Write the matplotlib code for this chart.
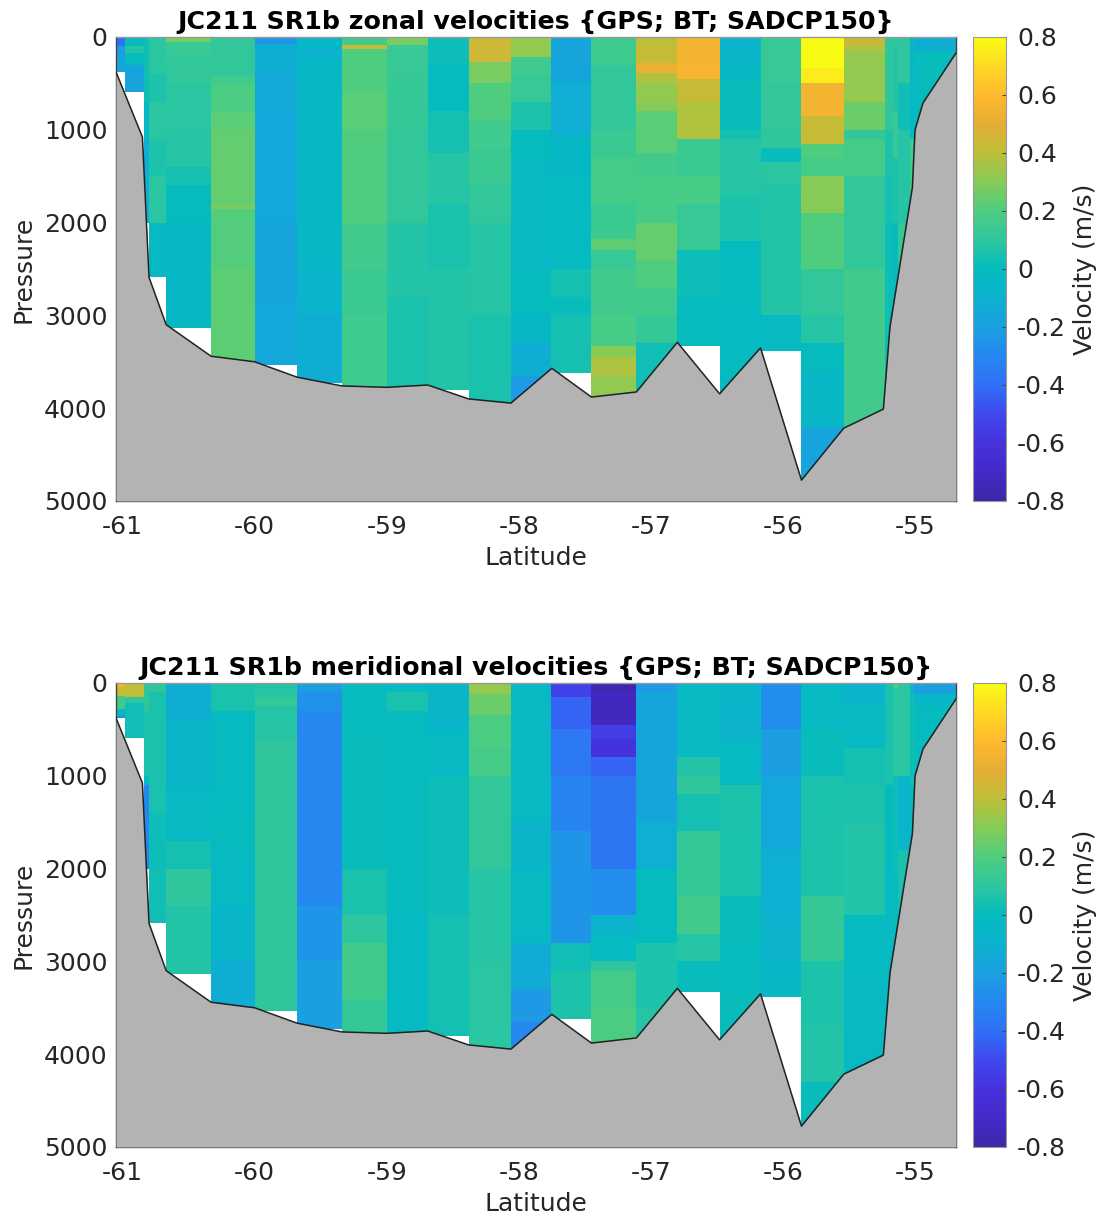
import matplotlib
matplotlib.use('Agg')
import matplotlib.pyplot as plt
from matplotlib.colors import LinearSegmentedColormap

# Colours, -0.8 to 0.8 in steps of 0.1
bar_colours = ['#3E26A8', '#4429C8', '#4632DC', '#3F48EE', '#3070F5', '#2588F0', '#1AA0E0',
               '#0CB2CE', '#04BBBE', '#2EC69E', '#4DCD80', '#85CC58', '#BCBF38', '#E4AE35',
               '#FFB92E', '#FFD825', '#F9FB14']

# Edges of the station columns (latitude)
col_edges = [-61.05, -60.98, -60.84, -60.80, -60.67, -60.33, -60.00, -59.68, -59.34,
             -59.00, -58.69, -58.38, -58.06, -57.76, -57.45, -57.11, -56.80, -56.48,
             -56.17, -55.86, -55.54, -55.23, -55.17, -55.13, -55.04, -55.00, -54.69]

# Deepest good data in each column
col_bottom = [380, 590, 2005, 2590, 3140, 3500, 3535, 3730, 3790, 3790, 3800, 3960, 3960,
              3620, 3890, 3830, 3330, 3860, 3385, 4800, 4250, 4020, 4020, 4020, 4020, 4020]

# Seabed
bathy_lat = [-61.05, -60.85, -60.80, -60.67, -60.33, -60.00, -59.68, -59.34, -59.00,
             -58.69, -58.38, -58.06, -57.75, -57.45, -57.11, -56.80, -56.48, -56.17,
             -55.86, -55.54, -55.24, -55.19, -55.02, -55.00, -54.94, -54.69]
bathy_p = [377, 1078, 2590, 3100, 3440, 3500, 3665, 3760, 3775, 3750, 3900, 3945, 3570,
           3880, 3825, 3290, 3845, 3350, 4775, 4215, 4010, 3125, 1620, 1000, 711, 172]

# (bottom of layer, velocity) going down each column
zonal = [
    [(100, -0.4), (200, -0.22), (370, -0.18)],
    [(100, 0.0), (170, 0.08), (300, 0.0), (590, -0.18)],
    [(300, 0.03), (700, 0.03), (1100, -0.05), (2000, -0.12)],
    [(400, 0.09), (700, 0.06), (1100, 0.09), (1500, 0.06), (2000, 0.09), (2590, -0.02)],
    [(50, 0.28), (230, 0.13), (500, 0.11), (1000, 0.09), (1400, 0.08), (1600, 0.04), (2000, 0.0), (3140, -0.03)],
    [(420, 0.11), (500, 0.15), (800, 0.19), (1000, 0.22), (1800, 0.24), (1850, 0.27), (2500, 0.21), (3500, 0.23)],
    [(80, -0.25), (400, -0.13), (800, -0.15), (2000, -0.16), (2800, -0.17), (3535, -0.16)],
    [(120, -0.05), (220, -0.1), (1500, -0.05), (2500, -0.04), (3000, -0.08), (3730, -0.13)],
    [(90, 0.16), (130, 0.42), (600, 0.2), (1000, 0.22), (2000, 0.2), (2500, 0.16), (3000, 0.14), (3790, 0.15)],
    [(90, 0.28), (400, 0.13), (1000, 0.12), (2000, 0.11), (2800, 0.07), (3790, 0.05)],
    [(300, 0.02), (800, 0.0), (1254, 0.04), (1800, 0.08), (2500, 0.05), (3800, 0.07)],
    [(270, 0.44), (500, 0.28), (900, 0.2), (1200, 0.15), (1600, 0.14), (2000, 0.11), (3000, 0.08), (3960, 0.05)],
    [(220, 0.32), (400, 0.15), (700, 0.13), (1000, 0.06), (1300, 0.0), (2500, -0.02), (3000, 0.0), (3300, -0.04), (3650, -0.13), (3960, -0.22)],
    [(480, -0.17), (1050, -0.12), (1500, -0.03), (2500, -0.01), (2800, 0.04), (3000, 0.01), (3620, 0.04)],
    [(300, 0.15), (700, 0.11), (1000, 0.11), (1300, 0.14), (1800, 0.17), (2100, 0.14), (2180, 0.15), (2300, 0.23), (2500, 0.13), (3000, 0.16), (3335, 0.18), (3450, 0.3), (3650, 0.37), (3890, 0.32)],
    [(100, 0.4), (280, 0.42), (390, 0.52), (500, 0.38), (700, 0.32), (800, 0.3), (1250, 0.22), (1500, 0.16), (2000, 0.18), (2400, 0.24), (2700, 0.2), (3000, 0.16), (3300, 0.12), (3830, 0.03)],
    [(300, 0.55), (450, 0.57), (700, 0.42), (1100, 0.38), (1500, 0.14), (1800, 0.18), (2300, 0.13), (2800, 0.02), (3330, 0.0)],
    [(150, -0.08), (350, -0.06), (470, -0.03), (1000, 0.01), (1100, 0.04), (1700, 0.08), (2200, 0.06), (2800, 0.0), (3860, -0.01)],
    [(500, 0.13), (1000, 0.11), (1200, 0.1), (1350, 0.01), (1600, 0.09), (2000, 0.07), (3000, 0.07), (3385, -0.02)],
    [(330, 0.8), (500, 0.75), (700, 0.55), (850, 0.55), (1150, 0.42), (1300, 0.2), (1500, 0.17), (1900, 0.3), (2500, 0.2), (3000, 0.11), (3300, 0.08), (3600, 0.0), (4200, -0.05), (4800, -0.18)],
    [(100, 0.42), (150, 0.38), (700, 0.33), (1000, 0.25), (1100, 0.11), (1500, 0.17), (2000, 0.11), (2500, 0.11), (3000, 0.16), (4250, 0.16)],
    [(1000, 0.1), (1500, 0.06), (2000, 0.04), (4020, 0.02)],
    [(100, 0.1), (800, 0.07), (1300, 0.13), (2000, 0.06), (4020, 0.0)],
    [(500, 0.1), (1000, 0.03), (2000, 0.08), (2500, 0.12), (4020, 0.1)],
    [(300, -0.05), (1100, -0.02), (4020, 0.15)],
    [(150, -0.13), (500, 0.01), (4020, 0.0)],
]

meridional = [
    [(40, 0.55), (140, 0.42), (285, 0.15), (360, -0.05), (380, -0.3)],
    [(150, 0.4), (220, 0.1), (590, 0.03)],
    [(300, 0.1), (1000, 0.06), (1100, -0.05), (2005, -0.3)],
    [(100, 0.1), (1400, 0.05), (2000, 0.02), (2590, 0.03)],
    [(400, -0.13), (1100, -0.07), (1700, -0.02), (2000, 0.04), (2400, 0.1), (3140, 0.07)],
    [(300, 0.05), (1300, -0.01), (1800, 0.0), (2400, -0.02), (3000, -0.06), (3500, -0.13)],
    [(150, 0.08), (250, 0.12), (600, 0.08), (2500, 0.1), (3535, 0.1)],
    [(100, -0.2), (300, -0.26), (2400, -0.3), (3000, -0.25), (3730, -0.2)],
    [(500, 0.0), (1000, 0.01), (2000, 0.01), (2500, 0.05), (2800, 0.1), (3400, 0.16), (3790, 0.12)],
    [(100, -0.01), (300, 0.05), (1500, 0.0), (2500, 0.0), (3790, -0.01)],
    [(500, -0.07), (1000, -0.02), (2500, 0.02), (3800, 0.04)],
    [(120, 0.33), (350, 0.25), (700, 0.19), (1000, 0.17), (2000, 0.11), (3000, 0.08), (3960, 0.09)],
    [(1500, -0.02), (2000, -0.07), (2800, -0.02), (3300, -0.14), (3650, -0.23), (3960, -0.3)],
    [(150, -0.53), (500, -0.43), (1000, -0.36), (1600, -0.31), (2800, -0.25), (3100, 0.03), (3620, 0.06)],
    [(90, -0.78), (450, -0.72), (600, -0.55), (800, -0.6), (1000, -0.43), (2000, -0.38), (2500, -0.28), (2700, -0.1), (3000, -0.01), (3100, 0.1), (3500, 0.17), (3890, 0.19)],
    [(100, -0.22), (300, -0.17), (1500, -0.17), (2000, -0.12), (2800, 0.0), (3100, 0.06), (3500, 0.06), (3830, 0.08)],
    [(800, -0.02), (1000, 0.07), (1200, 0.1), (1600, 0.04), (2300, 0.12), (2700, 0.16), (3000, 0.08), (3330, 0.01)],
    [(300, -0.07), (600, -0.09), (1100, -0.01), (1500, 0.06), (2300, 0.05), (2800, 0.01), (3300, 0.0), (3860, 0.01)],
    [(500, -0.27), (1000, -0.21), (1800, -0.16), (2500, -0.11), (3000, -0.09), (3385, -0.05)],
    [(500, -0.02), (1000, 0.01), (1500, 0.05), (2300, 0.06), (3000, 0.12), (3700, 0.06), (4300, 0.07), (4800, 0.01)],
    [(200, -0.09), (700, -0.02), (1100, 0.04), (1500, 0.06), (2500, 0.07), (3100, -0.01), (4250, -0.02)],
    [(150, 0.05), (1100, 0.05), (2000, 0.0), (4020, -0.02)],
    [(50, 0.2), (1000, 0.09), (2000, 0.02), (4020, 0.0)],
    [(1000, 0.09), (1800, -0.08), (2500, 0.05), (4020, 0.0)],
    [(120, -0.1), (1100, 0.02), (4020, 0.0)],
    [(120, -0.2), (250, -0.05), (500, 0.0), (4020, 0.0)],
]

titles = ['JC211 SR1b zonal velocities {GPS; BT; SADCP150}',
          'JC211 SR1b meridional velocities {GPS; BT; SADCP150}']
lat_ticks = [-61, -60, -59, -58, -57, -56, -55]
p_ticks = [0, 1000, 2000, 3000, 4000, 5000]
cbar_ticks = [-0.8, -0.6, -0.4, -0.2, 0, 0.2, 0.4, 0.6, 0.8]
cbar_labels = ['-0.8', '-0.6', '-0.4', '-0.2', '0', '0.2', '0.4', '0.6', '0.8']

cmap = LinearSegmentedColormap.from_list('bar', bar_colours, N=256)
dark = '#262626'
W, H = 1100., 1214.

fig = plt.figure(figsize=(11, 12.14), dpi=100)

for panel, (top, layers) in enumerate(zip([37, 683], [zonal, meridional])):
    ax = fig.add_axes([116 / W, 1 - (top + 464) / H, 840 / W, 464 / H])
    for i, col in enumerate(layers):
        edges = [0] + [c[0] for c in col]
        edges[-1] = col_bottom[i]
        vals = [[c[1]] for c in col]
        mesh = ax.pcolormesh(col_edges[i:i + 2], edges, vals, cmap=cmap, vmin=-0.8, vmax=0.8,
                             shading='flat', linewidth=0, antialiased=False)
    ax.fill_between(bathy_lat, bathy_p, 5000, color='#B3B3B3', linewidth=0, zorder=3)
    ax.plot(bathy_lat, bathy_p, color='#222222', linewidth=1.1, zorder=4)
    ax.set_xlim(-61.05, -54.69)
    ax.set_ylim(5000, 0)
    ax.set_xticks(lat_ticks)
    ax.set_yticks(p_ticks)
    ax.tick_params(axis='x', length=0, labelsize=18, labelcolor=dark, pad=10)
    ax.tick_params(axis='y', length=0, labelsize=18, labelcolor=dark, pad=6)
    ax.xaxis.set_major_formatter(plt.FuncFormatter(lambda v, _: '%d' % v))
    ax.set_xlabel('Latitude', fontsize=18, color=dark, labelpad=5)
    ax.set_ylabel('Pressure', fontsize=18, color=dark, labelpad=6)
    ax.set_title(titles[panel], fontsize=18.2, fontweight='bold', color='black', pad=6)
    for s in ax.spines.values():
        s.set_color('#444444')
        s.set_linewidth(1.0)
    ax.spines['top'].set_color('#999999')
    ax.spines['top'].set_zorder(5)

    cax = fig.add_axes([973 / W, 1 - (top + 464) / H, 33 / W, 464 / H])
    cb = fig.colorbar(mesh, cax=cax)
    cb.set_ticks(cbar_ticks)
    cb.set_ticklabels(cbar_labels)
    cb.ax.tick_params(direction='in', length=3, width=0.8, color='#444444',
                      labelsize=18, labelcolor=dark, pad=8)
    cb.outline.set_edgecolor('#999999')
    cb.outline.set_linewidth(0.8)
    cb.set_label('Velocity (m/s)', fontsize=18, color=dark, labelpad=5)

plt.savefig('out.png', dpi=100)
